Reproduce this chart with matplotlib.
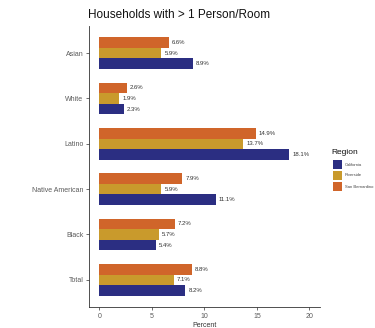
import matplotlib
matplotlib.use("Agg")
import matplotlib.pyplot as plt
import numpy as np

plt.rcParams['font.family'] = ['Liberation Sans', 'DejaVu Sans']

# Groups listed bottom to top
groups = ["Total", "Black", "Native American", "Latino", "White", "Asian"]
regions = ["California", "Riverside", "San Bernardino"]
california = [8.2, 5.4, 11.1, 18.1, 2.3, 8.9]
riverside = [7.1, 5.7, 5.9, 13.7, 1.9, 5.9]
san_bernardino = [8.8, 7.2, 7.9, 14.9, 2.6, 6.6]
x_ticks = [0, 5, 10, 15, 20]

colors = {"California": "#2B2E82", "Riverside": "#C99A2C", "San Bernardino": "#D0652A"}
series = {"California": california, "Riverside": riverside, "San Bernardino": san_bernardino}

fig = plt.figure(figsize=(3.75, 3.28), dpi=100)
ax = fig.add_axes([0.237, 0.064, 0.616, 0.857])

y = np.arange(1, len(groups) + 1)
bw = 0.7 / 3
offsets = {"California": -bw, "Riverside": 0.0, "San Bernardino": bw}

for reg in regions:
    vals = series[reg]
    ypos = y + offsets[reg]
    ax.barh(ypos, vals, height=bw, color=colors[reg], edgecolor="none")
    for v, yy in zip(vals, ypos):
        ax.annotate(f"{v}%", (v, yy), xytext=(2.2, 0), textcoords="offset points",
                    ha="left", va="center", fontsize=4.3, color="#333333",
                    bbox=dict(boxstyle="square,pad=0.15", fc="white", ec="none"))

ax.set_xlim(-1, 21)
ax.set_ylim(0.4, len(groups) + 0.6)
ax.set_yticks(y)
ax.set_yticklabels(groups, fontsize=5, color="#5A5A5A")
ax.set_xticks(x_ticks)
ax.set_xticklabels([str(t) for t in x_ticks], fontsize=5, color="#5A5A5A")
ax.tick_params(axis="both", length=2, width=0.5, color="#333333", pad=2)
for s in ["top", "right"]:
    ax.spines[s].set_visible(False)
for s in ["left", "bottom"]:
    ax.spines[s].set_linewidth(0.6)
    ax.spines[s].set_color("#333333")

ax.set_xlabel("Percent", fontsize=5, color="#333333", labelpad=1.5)
fig.text(0.235, 0.955, "Households with > 1 Person/Room", fontsize=8.5,
         ha="left", va="center", color="#111111")

# Legend
fig.text(0.885, 0.535, "Region", fontsize=6, ha="left", va="center", color="#111111")
key_w, key_h = 9 / 375, 9 / 328
for i, reg in enumerate(regions):
    top = (328 - 160 - i * 11) / 328
    fig.patches.append(matplotlib.patches.Rectangle(
        (333 / 375, top - key_h), key_w, key_h, transform=fig.transFigure,
        facecolor=colors[reg], edgecolor="none"))
    fig.text(345 / 375, top - key_h / 2, reg, fontsize=3.0, ha="left", va="center",
             color="#444444")

fig.savefig("out.png", dpi=100)
